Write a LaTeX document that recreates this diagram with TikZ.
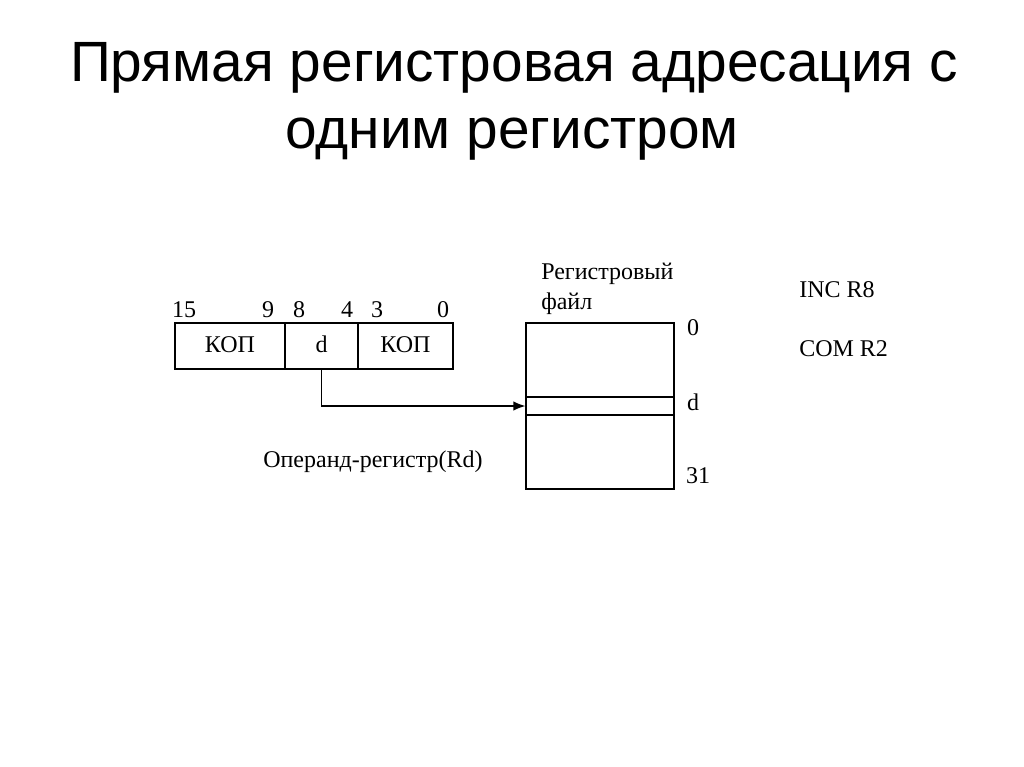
\documentclass[tikz,border=0pt]{standalone}
\usepackage{fontspec}
\setmainfont{Liberation Serif}
\newfontfamily\titlefont{Liberation Sans}
\usetikzlibrary{arrows.meta}

\begin{document}
\begin{tikzpicture}[x=0.75pt,y=-0.75pt,
  field/.style={draw,line width=0.9pt,inner sep=0pt,minimum height=34.5pt,text height=12pt,text depth=2pt,font=\fontsize{18}{20}\selectfont},
  lbl/.style={inner sep=0pt,font=\fontsize{18}{20}\selectfont},
  heading/.style={inner sep=0pt,anchor=base,font=\titlefont\fontsize{42.6}{48}\selectfont}]
  \useasboundingbox[fill=white] (0,0) rectangle (1024,767);
  \node[heading] (t1) at (514,82) {Прямая регистровая адресация с};
  \node[heading] (t2) at (512,148) {одним регистром};
  \node[field,minimum width=82.5pt] (kop1) at (230,346) {КОП};
  \node[field,minimum width=54.75pt] (dfld) at (321.5,346) {d};
  \node[field,minimum width=71.25pt] (kop2) at (405.5,346) {КОП};
  \node[lbl,anchor=base] (b15) at (184,317) {15};
  \node[lbl,anchor=base] (b9) at (268,317) {9};
  \node[lbl,anchor=base] (b8) at (299,317) {8};
  \node[lbl,anchor=base] (b4) at (347,317) {4};
  \node[lbl,anchor=base] (b3) at (377,317) {3};
  \node[lbl,anchor=base] (b0) at (443,317) {0};
  \node[field,minimum width=111pt,minimum height=124.5pt] (rf) at (600,406) {};
  \node[field,minimum width=111pt,minimum height=13.5pt,text height=0pt,text depth=0pt] (rd) at (600,406) {};
  \node[lbl,anchor=base west] (rft1) at (541,279) {Регистровый};
  \node[lbl,anchor=base west] (rft2) at (541,309) {файл};
  \node[lbl,anchor=base] (r0) at (693,335) {0};
  \node[lbl,anchor=base] (rdl) at (693,410) {d};
  \node[lbl,anchor=base] (r31) at (698,483) {31};
  \node[lbl,anchor=base west] (op) at (263,467) {Операнд-регистр(Rd)};
  \node[lbl,anchor=base west] (inc) at (799,297) {INC R8};
  \node[lbl,anchor=base west] (com) at (799,356) {COM R2};
  \draw[line width=0.9pt,-{Latex[length=9pt,width=7pt]}] (dfld.south) |- (rd.west);
\end{tikzpicture}
\end{document}
